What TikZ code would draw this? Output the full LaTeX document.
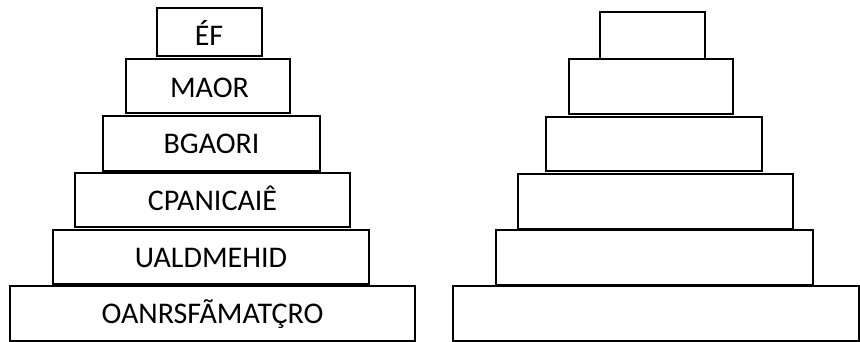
\documentclass[tikz,border=0pt]{standalone}
\usepackage{fontspec}
\setmainfont{Carlito}
\begin{document}
\begin{tikzpicture}[x=1pt,y=-1pt,
  tier/.style={draw=black, line width=1.5pt, rectangle, inner sep=0pt, outer sep=0pt, fill=white},
  word/.style={anchor=base, inner sep=0pt, font=\fontsize{30}{33}\selectfont}]
\useasboundingbox[fill=white] (0,0) rectangle (860,342);
% left pyramid
\node[tier, minimum width=105pt, minimum height=48pt] (l1) at (209.5,32) {};
\node[tier, minimum width=164pt, minimum height=54pt] (l2) at (208,86) {};
\node[tier, minimum width=217pt, minimum height=55pt] (l3) at (211.5,143.5) {};
\node[tier, minimum width=275pt, minimum height=54pt] (l4) at (212.5,200) {};
\node[tier, minimum width=316pt, minimum height=54pt] (l5) at (211,257) {};
\node[tier, minimum width=405pt, minimum height=55pt] (l6) at (212.5,313.5) {};
\node[word] (t1) at (209,46) {ÉF};
\node[word] (t2) at (209.5,98) {MAOR};
\node[word] (t3) at (211.5,154) {BGAORI};
\node[word] (t4) at (212.5,211) {CPANICAIÊ};
\node[word] (t5) at (211,267) {UALDMEHID};
\node[word] (t6) at (212.5,323) {OANRSFÃMATÇRO};
% right pyramid
\node[tier, minimum width=105pt, minimum height=47pt] (r1) at (652.5,35.5) {};
\node[tier, minimum width=164pt, minimum height=55pt] (r2) at (651,86.5) {};
\node[tier, minimum width=216pt, minimum height=54pt] (r3) at (654,144) {};
\node[tier, minimum width=275pt, minimum height=55pt] (r4) at (655.5,201.5) {};
\node[tier, minimum width=317pt, minimum height=55pt] (r5) at (654.5,257.5) {};
\node[tier, minimum width=406pt, minimum height=55pt] (r6) at (656,313.5) {};
\end{tikzpicture}
\end{document}
